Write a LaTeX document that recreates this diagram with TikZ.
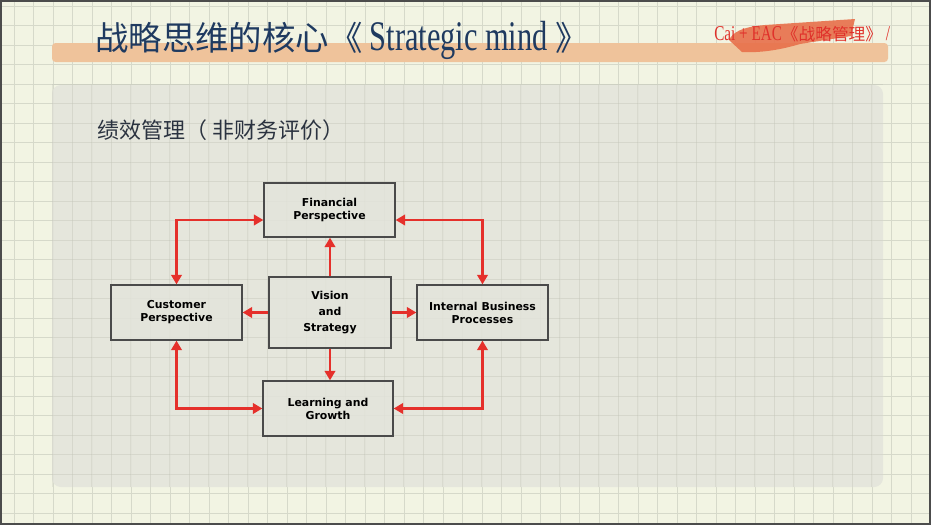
\documentclass[tikz,border=0pt]{standalone}
\usepackage{fontspec}
\setsansfont{DejaVu Sans}
\setmainfont{Liberation Serif}
\newfontfamily\cjk{Noto Sans CJK SC}
\newfontfamily\narrowserif[FakeStretch=0.72]{Liberation Serif}
\usetikzlibrary{arrows.meta}
\definecolor{paper}{HTML}{F2F4E3}
\definecolor{gridline}{HTML}{D6D9CA}
\definecolor{panel}{HTML}{E3E4DB}
\definecolor{band}{HTML}{EFC39B}
\definecolor{brush}{HTML}{E8704B}
\definecolor{navy}{HTML}{1F3A60}
\definecolor{stamp}{HTML}{E0302A}
\definecolor{linkred}{HTML}{E5302B}
\definecolor{boxline}{HTML}{4A4A4A}
\definecolor{subtext}{HTML}{2B3340}

\begin{document}
\begin{tikzpicture}[x=0.02cm,y=-0.02cm,>={Triangle[length=5.4pt,width=6pt]},
  box/.style={draw=boxline,line width=0.75pt,fill=panel,fill opacity=0.8,text opacity=1,
    align=center,inner sep=0pt,font=\sffamily\bfseries\fontsize{6.2}{7.4}\selectfont},
  link/.style={draw=linkred,line width=1.3pt}]
\useasboundingbox (0,0) rectangle (933,528);
\fill[white] (0,0) rectangle (933,528);
\fill[paper] (1,1) rectangle (930,524);

% grid paper
\foreach \gx in {14,33.5,...,930} \draw[gridline,line width=0.4pt] (\gx,1) -- (\gx,524);
\foreach \gy in {6,25.5,...,524} \draw[gridline,line width=0.4pt] (1,\gy) -- (930,\gy);

% title band
\fill[band,rounded corners=2pt] (52,43) rectangle (888,62);
\fill[brush,opacity=0.9] (729,40) .. controls (733,32) and (742,27) .. (765,25)
  -- (855,19) -- (851,36) -- (800,44) .. controls (780,50) and (760,53) .. (742,52) -- cycle;
\node[anchor=base west,text=navy,inner sep=0pt] (title) at (95,50)
  {\cjk\fontsize{19}{20}\selectfont 战略思维的核心《\ {\narrowserif\fontsize{24}{24}\selectfont Strategic mind}\ 》};
\node[anchor=base west,text=stamp,inner sep=0pt] (stamptext) at (714,40)
  {\narrowserif\fontsize{12}{12}\selectfont Cai + EAC{\cjk\fontsize{9.5}{10}\selectfont 《战略管理》}~/};

% content panel
\fill[panel,fill opacity=0.85,rounded corners=5pt] (52,85) rectangle (883,487);
\foreach \gx in {52.5,72,...,883} \draw[gridline!85!black,opacity=0.25,line width=0.4pt] (\gx,85) -- (\gx,487);
\foreach \gy in {84,103.5,...,487} \draw[gridline!85!black,opacity=0.25,line width=0.4pt] (52,\gy) -- (883,\gy);
\node[anchor=base west,text=subtext,inner sep=0pt] (subtitle) at (97,138)
  {\cjk\fontsize{12.5}{13}\selectfont 绩效管理（\hspace{3pt}非财务评价）};

% perspectives
\node[box,minimum width=2.62cm,minimum height=1.08cm] (fin) at (329.5,210) {Financial\\Perspective};
\node[box,minimum width=2.62cm,minimum height=1.1cm] (cust) at (176.5,312.5) {Customer\\Perspective};
\node[box,minimum width=2.44cm,minimum height=1.42cm,
  font=\sffamily\bfseries\fontsize{6.2}{9}\selectfont] (vis) at (330,312.5) {Vision\\and\\Strategy};
\node[box,minimum width=2.62cm,minimum height=1.1cm] (intl) at (482.5,312.5) {Internal Business\\Processes};
\node[box,minimum width=2.6cm,minimum height=1.1cm] (learn) at (328,408.5) {Learning and\\Growth};

\draw[link,<->] (cust.north) |- ([yshift=-0.2cm]fin.west);
\draw[link,<->] ([yshift=-0.2cm]fin.east) -| (intl.north);
\draw[link,<->] (cust.south) |- (learn.west);
\draw[link,<->] (learn.east) -| (intl.south);
\draw[link,->] (vis.north) -- (vis.north |- fin.south);
\draw[link,->] (vis.south) -- (vis.south |- learn.north);
\draw[link,->] (vis.west) -- (vis.west -| cust.east);
\draw[link,->] (vis.east) -- (vis.east -| intl.west);
\draw[gray!60!black,line width=1.2pt] (1,1) rectangle (930,524);
\end{tikzpicture}
\end{document}
